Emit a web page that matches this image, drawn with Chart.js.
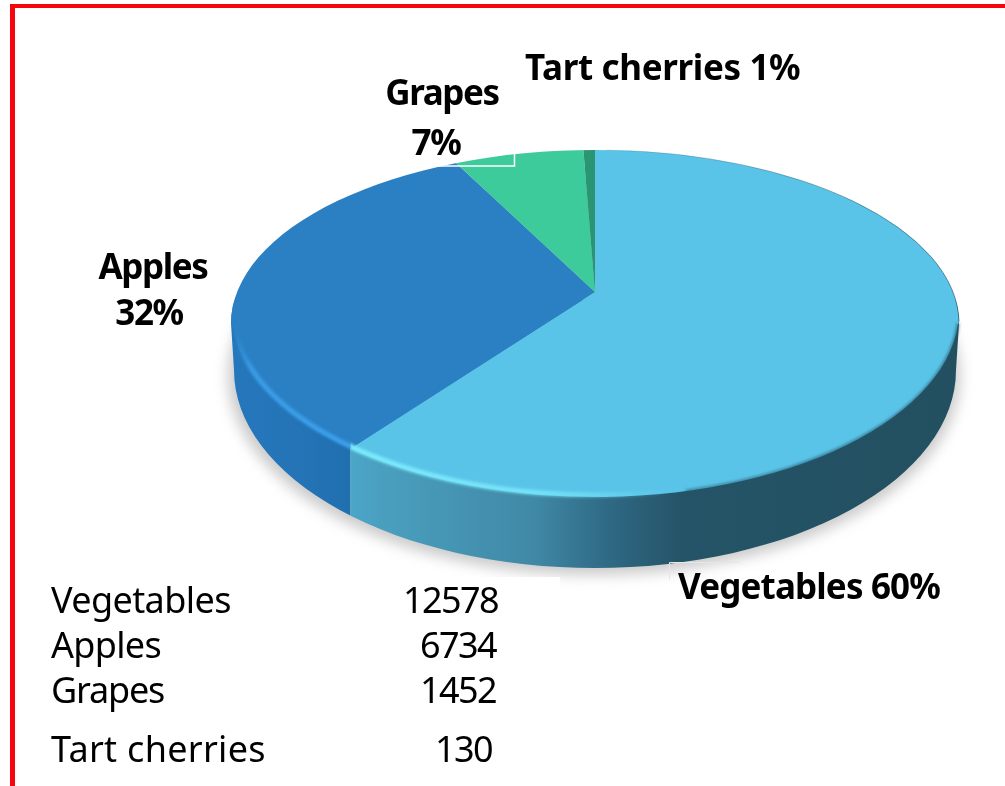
<!DOCTYPE html>
<html><head><meta charset="utf-8">
<style>
html,body{margin:0;padding:0;background:#fff;overflow:hidden}
#wrap{position:relative;width:1005px;height:786px}
canvas{position:absolute;left:0;top:0}
.r{position:absolute;background:#f5060c}
</style>
<script src="https://cdn.jsdelivr.net/npm/chart.js@4"></script>
</head><body>
<div id="wrap"><canvas id="c" width="1005" height="786"></canvas>
<div class="r" style="left:10px;top:4px;width:995px;height:4px"></div>
<div class="r" style="left:10px;top:4px;width:5px;height:782px"></div>
</div>
<script>
const categories = ['Vegetables','Apples','Grapes','Tart cherries'];
const values = [12578,6734,1452,130];
const percentLabels = ['60%','32%','7%','1%'];
const colors = ['#5ac4e8','#2b80c4','#3ecb9b','#2a9573'];

const FONT = '"Noto Sans"';
const faceUp = {cx:595, cy:323.5, rx:364, ry:173.5};
const faceLo = {cx:595, cy:310, rx:364, ry:187};
const rim = {cx:595, cy:370, rx:361, ry:198};
const SQUASH = 0.478;
const A0 = Math.asin((faceUp.cy-faceLo.cy)/faceLo.ry);

function facePath(ctx){
  ctx.beginPath();
  ctx.ellipse(faceUp.cx,faceUp.cy,faceUp.rx,faceUp.ry,0,Math.PI,0);
  ctx.ellipse(faceLo.cx,faceLo.cy,faceLo.rx,faceLo.ry,0,A0,Math.PI-A0);
  ctx.closePath();
}
function solidPath(ctx){
  ctx.beginPath();
  ctx.ellipse(faceUp.cx,faceUp.cy,faceUp.rx,faceUp.ry,0,Math.PI,0);
  ctx.ellipse(rim.cx,rim.cy,rim.rx,rim.ry,0,0,Math.PI);
  ctx.closePath();
}
// x where the vegetables/apples boundary meets the lower edge of the top face
function splitX(chart){
  const a = chart.getDatasetMeta(0).data[0];
  const ang = a.endAngle, dx=Math.cos(ang), dy=Math.sin(ang)*SQUASH;
  let t=0;
  while(t<2000){
    const x=a.x+dx*t-faceLo.cx, y=a.y+dy*t-faceLo.cy;
    if(y>0 && (x*x)/(faceLo.rx*faceLo.rx)+(y*y)/(faceLo.ry*faceLo.ry)>=1) break;
    t+=0.5;
  }
  return a.x+dx*t;
}
const pie3d = {
  id:'pie3d',
  beforeDatasetsDraw(chart){
    const ctx=chart.ctx, sx=splitX(chart);
    // soft shadow
    ctx.save();
    ctx.filter='blur(7px)';
    ctx.fillStyle='rgba(90,90,90,0.32)';
    ctx.beginPath();ctx.ellipse(rim.cx-1,rim.cy+6,rim.rx+5,rim.ry+1,0,0,Math.PI*2);ctx.fill();
    ctx.restore();
    ctx.fillStyle='#fff';
    ctx.fillRect(15,577,545,209);
    // side wall
    ctx.save();solidPath(ctx);ctx.clip();
    const gA=ctx.createLinearGradient(231,0,sx,0);
    gA.addColorStop(0,'#2577bc');gA.addColorStop(0.5,'#2474b7');gA.addColorStop(1,'#2070b0');
    ctx.fillStyle=gA;ctx.fillRect(200,300,sx-200,300);
    const gV=ctx.createLinearGradient(sx,0,960,0);
    gV.addColorStop(0,'#4ba6c8');gV.addColorStop(0.05,'#4a9fbf');gV.addColorStop(0.3,'#4089a6');
    gV.addColorStop(0.42,'#2f6a85');gV.addColorStop(0.54,'#255468');gV.addColorStop(1,'#225060');
    ctx.fillStyle=gV;ctx.fillRect(sx,300,800,300);
    ctx.restore();
    // top face: library arcs, squashed and clipped to the face outline
    ctx.save();
    facePath(ctx);ctx.clip();
    const a=chart.getDatasetMeta(0).data[0];
    ctx.translate(a.x,a.y);ctx.scale(1,SQUASH);ctx.translate(-a.x,-a.y);
  },
  afterDatasetsDraw(chart){
    const ctx=chart.ctx, sx=splitX(chart);
    ctx.restore();
    // bevel highlight
    ctx.save();
    ctx.filter='blur(1.6px)';
    ctx.lineWidth=5;
    ctx.save();ctx.beginPath();ctx.rect(200,200,sx-200,400);ctx.clip();
    const g1=ctx.createLinearGradient(235,0,sx,0);
    g1.addColorStop(0,'rgba(60,160,235,0)');g1.addColorStop(0.15,'rgba(60,160,235,.9)');g1.addColorStop(1,'rgba(60,160,235,1)');
    ctx.strokeStyle=g1;ctx.beginPath();ctx.ellipse(faceLo.cx,faceLo.cy-1,faceLo.rx-1,faceLo.ry-1,0,Math.PI*0.55,Math.PI*0.98);ctx.stroke();
    ctx.restore();
    ctx.beginPath();ctx.rect(sx,200,800,400);ctx.clip();
    const g2=ctx.createLinearGradient(sx,0,670,0);
    g2.addColorStop(0,'rgba(125,235,252,1)');g2.addColorStop(0.6,'rgba(125,235,252,.8)');g2.addColorStop(1,'rgba(125,235,252,0)');
    ctx.strokeStyle=g2;ctx.beginPath();ctx.ellipse(faceLo.cx,faceLo.cy-1,faceLo.rx-1,faceLo.ry-1,0,Math.PI*0.3,Math.PI*0.9);ctx.stroke();
    ctx.restore();
    // soft dark transition on the right-hand edge
    ctx.save();
    ctx.filter='blur(1.5px)';ctx.lineWidth=2.5;ctx.strokeStyle='rgba(38,84,104,.75)';
    ctx.beginPath();ctx.ellipse(faceLo.cx,faceLo.cy,faceLo.rx,faceLo.ry,0,A0,Math.PI*0.42);ctx.stroke();
    ctx.restore();
    // thin dark line along the upper-right edge
    ctx.save();
    ctx.lineWidth=1;
    const g3=ctx.createLinearGradient(600,0,960,0);
    g3.addColorStop(0,'rgba(60,110,130,.2)');g3.addColorStop(1,'rgba(40,90,110,.7)');
    ctx.strokeStyle=g3;
    ctx.beginPath();ctx.ellipse(faceUp.cx,faceUp.cy,faceUp.rx,faceUp.ry,0,-Math.PI*0.49,-0.01);ctx.stroke();
    ctx.restore();
    // thin white callout boxes
    ctx.strokeStyle='#fff';ctx.lineWidth=1.5;
    ctx.beginPath();ctx.moveTo(436,166);ctx.lineTo(514.5,166);ctx.lineTo(514.5,153);ctx.stroke();
    ctx.strokeStyle='#e6e6e6';ctx.lineWidth=1;
    ctx.beginPath();ctx.moveTo(669.5,580);ctx.lineTo(669.5,562.5);ctx.lineTo(740,562.5);ctx.stroke();
  },
  afterDraw(chart){
    const ctx=chart.ctx;
    ctx.save();
    ctx.fillStyle='#000';ctx.textBaseline='alphabetic';
    // pie labels
    ctx.font='bold 35px '+FONT;
    ctx.textAlign='left';
    ctx.letterSpacing='-0.35px';
    ctx.fillText(categories[3]+' '+percentLabels[3],525,80);
    ctx.letterSpacing='-0.85px';
    ctx.fillText(categories[0]+' '+percentLabels[0],678,599);
    ctx.letterSpacing='-1.4px';
    ctx.textAlign='center';
    ctx.fillText(categories[2],442,105);
    ctx.fillText(percentLabels[2],436,155);
    ctx.fillText(categories[1],153,279);
    ctx.fillText(percentLabels[1],149,325);
    // table
    ctx.font='36px '+FONT;
    const ys=[613,658,703,762], rights=[498,496,496,492], tracking=[-0.6,-0.7,-1.2,0.3];
    categories.forEach((c,i)=>{
      ctx.letterSpacing=tracking[i]+'px';
      ctx.textAlign='left';ctx.fillText(c,51,ys[i]);
      ctx.letterSpacing='-1.6px';
      ctx.textAlign='right';ctx.fillText(String(values[i]),rights[i],ys[i]);
    });
    ctx.restore();
  }
};
new Chart(document.getElementById('c'),{
  type:'pie',
  data:{labels:categories,datasets:[{data:values,backgroundColor:colors,borderWidth:0,radius:520,clip:false}]},
  options:{
    responsive:false,animation:false,
    layout:{padding:{left:185,right:0,top:0,bottom:202}},
    plugins:{legend:{display:false},tooltip:{enabled:false}}
  },
  plugins:[pie3d]
});
</script>
</body></html>
